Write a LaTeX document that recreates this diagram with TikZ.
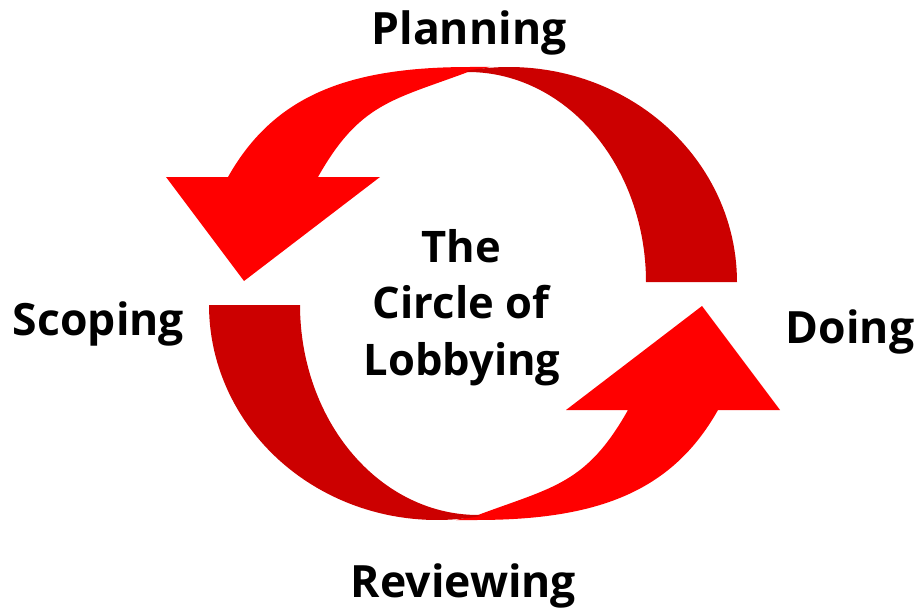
\documentclass[tikz,border=0pt]{standalone}
\usepackage{fontspec}
\setmainfont{Open Sans}
\definecolor{tailred}{RGB}{204,0,0}
\definecolor{headred}{RGB}{255,0,0}
\begin{document}
\begin{tikzpicture}[x=1pt,y=-1pt,
  wordlabel/.style={font=\fontsize{44.5}{50}\selectfont\bfseries, anchor=base, inner sep=0pt},
  centertext/.style={font=\fontsize{43.5}{50}\selectfont\bfseries, anchor=base, inner sep=0pt}]
\useasboundingbox (0,0) rectangle (924,610);

% two curved arrows; the lower one is the upper one turned half a turn
\foreach \turn in {0,180}{
  \begin{scope}[rotate around={\turn:(473,293.5)}]
    % head half of the arrow (bright red)
    \fill[headred] (490,67) -- (470,67)
      .. controls (350,67) and (274.5,94.4) .. (228,177)
      -- (166,177) -- (244,281) -- (380,177) -- (318,177)
      .. controls (359.6,103) and (393,100) .. (468,72) -- cycle;
    % tail half of the arrow (dark red crescent)
    \fill[tailred] (646,282) -- (737,282)
      -- plot[domain=0:101,samples=60] ({509+228*cos(\x)},{282-215*sin(\x)})
      -- plot[domain=90:0,samples=60] ({468+178*cos(\x)},{282-210*sin(\x)})
      -- cycle;
  \end{scope}
}

\node[wordlabel] (planning) at (469,45) {Planning};
\node[wordlabel] (scoping) at (98.5,335) {Scoping};
\node[wordlabel] (doing) at (850,343) {Doing};
\node[wordlabel] (reviewing) at (463.5,597) {Reviewing};

\node[centertext] (title1) at (461.5,262) {The};
\node[centertext] (title2) at (461,318) {Circle of};
\node[centertext] (title3) at (462,375) {Lobbying};
\end{tikzpicture}
\end{document}
